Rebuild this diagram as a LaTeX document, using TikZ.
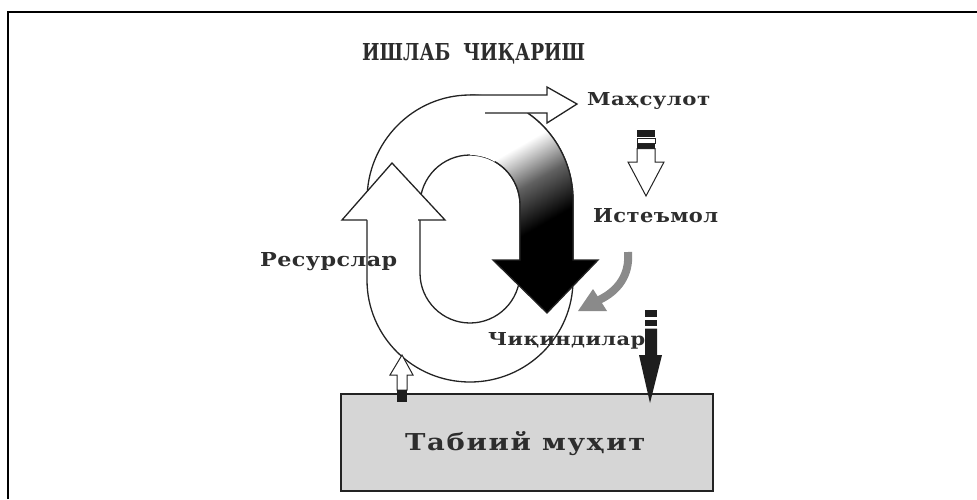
\documentclass[tikz,border=0pt]{standalone}
\usepackage{fontspec}
\usepackage{graphicx}
\newfontfamily\slab{DejaVu Serif}
\newfontfamily\slabsp[LetterSpace=2]{DejaVu Serif}
\newfontfamily\slabwide[LetterSpace=6]{DejaVu Serif}
\definecolor{boxgray}{RGB}{214,214,214}
\definecolor{linegray}{RGB}{35,35,35}
\definecolor{txtgray}{RGB}{45,45,45}
\definecolor{arrgray}{RGB}{138,138,138}
\definecolor{darkarr}{RGB}{30,30,30}
\pgfdeclareverticalshading{blkshade}{100bp}{color(0bp)=(black); color(46bp)=(black); color(58bp)=(black!62); color(69bp)=(white); color(100bp)=(white)}
\newcommand{\fitlbl}[3]{\resizebox{#1pt}{#2pt}{#3}}
\begin{document}
\begin{tikzpicture}[x=1pt,y=-1pt, line join=miter,
  ln/.style={draw=linegray, line width=1.3pt},
  thin/.style={draw=linegray, line width=1pt},
  lbl/.style={font=\slabsp\bfseries\fontsize{20}{20}\selectfont, anchor=base west, inner sep=0pt, text=txtgray},
  blbl/.style={font=\slab\bfseries\fontsize{20}{20}\selectfont, anchor=base west, inner sep=0pt, text=txtgray}]
\useasboundingbox (0,0) rectangle (977,499);
% frame
\draw[line width=1.6pt] (8,499) -- (8,12) -- (977,12);
% title
\node[blbl] (title) at (362,60) {\fitlbl{223}{17}{ИШЛАБ \ ЧИҚАРИШ}};
% outer and inner ovals
\draw[ln] (367,280) -- (367,200) arc[start angle=180, end angle=360, x radius=103, y radius=105] -- (573,280) arc[start angle=0, end angle=180, x radius=103, y radius=102] -- cycle;
\draw[ln] (420,273) -- (420,205) arc[start angle=180, end angle=360, radius=50] -- (520,273) arc[start angle=0, end angle=180, radius=50] -- cycle;
% black gradient arrow
\shade[shading=blkshade, shading angle=30] (485,113) -- (527.6,113) arc[start angle=304, end angle=360, x radius=103, y radius=105] -- (573,260) -- (598,260) -- (547,313) -- (493,260) -- (520,260) -- (520,205) arc[start angle=360, end angle=270, radius=50] -- cycle;
\draw[ln] (527.6,113) arc[start angle=304, end angle=360, x radius=103, y radius=105] -- (573,260) -- (598,260) -- (547,313) -- (493,260) -- (520,260) -- (520,205) arc[start angle=360, end angle=300, radius=50];
% product arrow
\fill[white] (470,95) -- (547,95) -- (547,87) -- (577,104) -- (547,123) -- (547,113) -- (485,113) -- cycle;
\draw[ln] (470,95) -- (547,95) -- (547,87) -- (577,104) -- (547,123) -- (547,113) -- (485,113);
% resources arrow head
\filldraw[ln, fill=white] (367,220) -- (342,220) -- (392,163) -- (445,220) -- (418,220);
% box
\node[draw=linegray, line width=1.5pt, fill=boxgray, minimum width=372pt, minimum height=97pt, anchor=north west, inner sep=0pt] (box) at (340,393) {};
% small up arrow from box
\filldraw[thin, fill=white] (397,390) -- (397,375) -- (390,375) -- (402,355) -- (413,375) -- (407,375) -- (407,390) -- cycle;
\fill[darkarr] (397,390) rectangle (407,402);
% product -> consumption arrow
\fill[darkarr] (637,130) rectangle (655,137);
\draw[thin, fill=white] (637,138.5) rectangle (655,143);
\fill[darkarr] (637,144) rectangle (655,147.5);
\filldraw[thin, fill=white] (637,148.5) -- (637,162) -- (628,162) -- (646,196) -- (664,162) -- (655,162) -- (655,148.5) -- cycle;
% waste -> environment arrow
\fill[darkarr] (645,310) rectangle (657,317);
\fill[darkarr] (645,319.5) rectangle (657,326);
\fill[darkarr] (645,328.5) -- (645,355) -- (639,355) -- (650,403) -- (662,355) -- (657,355) -- (657,328.5) -- cycle;
% gray curved arrow
\draw[arrgray, line width=8pt] (628,252) .. controls (630,275) and (618,291) .. (599,300);
\fill[arrgray] (578,311) -- (593,289) -- (607,311) -- cycle;
% labels
\node[lbl] (mah) at (587,105) {\fitlbl{123}{13}{Маҳсулот}};
\node[lbl] (ist) at (593,222) {\fitlbl{125}{14}{Истеъмол}};
\node[lbl] (res) at (260,266) {\fitlbl{137}{14}{Ресурслар}};
\node[lbl] (chiq) at (488,345) {\fitlbl{157}{13}{Чиқиндилар}};
\node[lbl, font=\slabwide\bfseries\fontsize{20}{20}\selectfont] (tab) at (405,450) {\fitlbl{240}{19}{Табиий муҳит}};
\end{tikzpicture}
\end{document}
